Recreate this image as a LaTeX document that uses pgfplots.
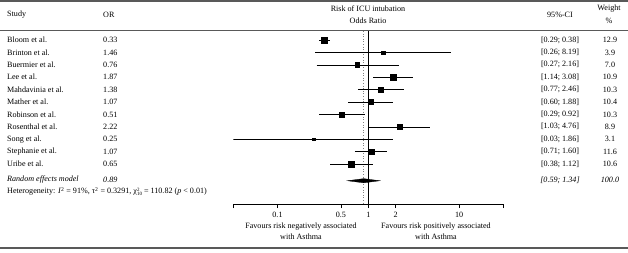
\documentclass[border=0pt]{standalone}
\usepackage{fontspec}
\setmainfont{Liberation Serif}
\usepackage{pgfplots}
\pgfplotsset{compat=1.18}
\usepackage{pgfplotstable}

\pgfplotstableread{
row or lo hi w
1 0.33 0.29 0.38 12.9
2 1.46 0.26 8.19 3.9
3 0.76 0.27 2.16 7.0
4 1.87 1.14 3.08 10.9
5 1.38 0.77 2.46 10.3
6 1.07 0.60 1.88 10.4
7 0.51 0.29 0.92 10.3
8 2.22 1.03 4.76 8.9
9 0.25 0.03 1.86 3.1
10 1.07 0.71 1.60 11.6
11 0.65 0.38 1.12 10.6
}\studies

\newcommand{\cibar}[3]{\addplot[black, line width=0.6pt, forget plot] coordinates {(#2,#1) (#3,#1)};}

\begin{document}
\begin{tikzpicture}
\useasboundingbox (0,0) rectangle (628pt,252pt);
\begin{axis}[
  at={(233.3pt,48pt)}, anchor=south west,
  scale only axis, width=270pt, height=173pt,
  xmode=log, xmin=0.0326, xmax=30.7,
  ymin=0.274, ymax=14.226, y dir=reverse,
  axis y line=none, axis x line*=bottom,
  axis line style={black, line width=0.6pt},
  xtick={0.1,0.5,1,2,10}, xticklabels={0.1,0.5,1,2,10},
  extra x ticks={0.0326,30.7}, extra x tick labels={,},
  extra x tick style={tick style={black, line width=0.6pt}},
  minor xtick={},
  tick align=outside, major tick length=4pt,
  tick style={black, line width=0.6pt},
  xticklabel style={font=\fontsize{8.1}{9.5}\selectfont, yshift=-1pt},
  clip=true,
]
\addplot[black, line width=0.6pt] coordinates {(1,0.274) (1,14.226)};
\addplot[gray, dotted, line width=0.6pt] coordinates {(0.89,0.274) (0.89,14.226)};
\cibar{1}{0.29}{0.38}
\cibar{2}{0.26}{8.19}
\cibar{3}{0.27}{2.16}
\cibar{4}{1.14}{3.08}
\cibar{5}{0.77}{2.46}
\cibar{6}{0.60}{1.88}
\cibar{7}{0.29}{0.92}
\cibar{8}{1.03}{4.76}
\cibar{9}{0.03}{1.86}
\cibar{10}{0.71}{1.60}
\cibar{11}{0.38}{1.12}
\addplot[scatter, only marks, mark=square*,
  scatter/use mapped color={draw=black, fill=black},
  visualization depends on={0.83*sqrt(\thisrow{w}) \as \ms},
  scatter/@pre marker code/.append style={/tikz/mark size=\ms}]
  table[x=or, y=row] {\studies};
\addplot[fill=black, draw=black, line width=0.3pt] coordinates {(0.59,12.35) (0.89,12.18) (1.34,12.35) (0.89,12.52)} -- cycle;
\end{axis}

\begin{scope}[yshift=252pt, x=1pt, y=-1pt, font=\fontsize{8.1}{9.5}\selectfont, inner sep=0pt]
\draw[black!65, line width=1.6pt] (0,1.2) -- (628,1.2);
\draw[black!65, line width=0.9pt] (0,30.7) -- (628,30.7);
\draw[black!65, line width=1.6pt] (0,248) -- (628,248);
% headers
\node[anchor=west] at (7,15) {Study};
\node[anchor=west] at (103,15) {OR};
\node at (368,8.5) {Risk of ICU intubation};
\node at (368,21) {Odds Ratio};
\node at (560,15) {95\%-CI};
\node at (609,8.5) {Weight};
\node at (609,21) {\%};
% rows
\foreach \rr/\nm/\orv/\civ/\wv in {
  1/Bloom et al./0.33/{[0.29; 0.38]}/12.9,
  2/Brinton et al./1.46/{[0.26; 8.19]}/3.9,
  3/Buermier et al./0.76/{[0.27; 2.16]}/7.0,
  4/Lee et al./1.87/{[1.14; 3.08]}/10.9,
  5/Mahdavinia et al./1.38/{[0.77; 2.46]}/10.3,
  6/Mather et al./1.07/{[0.60; 1.88]}/10.4,
  7/Robinson et al./0.51/{[0.29; 0.92]}/10.3,
  8/Rosenthal et al./2.22/{[1.03; 4.76]}/8.9,
  9/Song et al./0.25/{[0.03; 1.86]}/3.1,
  10/Stephanie et al./1.07/{[0.71; 1.60]}/11.6,
  11/Uribe et al./0.65/{[0.38; 1.12]}/10.6}{
  \pgfmathsetmacro{\yy}{40+12.4*(\rr-1)}
  \node[anchor=west] at (7,\yy) {\nm};
  \node[anchor=west] at (103,\yy) {\orv};
  \node at (560,\yy) {\civ};
  \node at (610,\yy) {\wv};
}
\node[anchor=west] at (7,180) {\textit{Random effects model}};
\node[anchor=west] at (103,180) {\textit{0.89}};
\node at (560,180) {\textit{[0.59; 1.34]}};
\node at (610,180) {\textit{100.0}};
\node[anchor=west] at (7,191.5) {Heterogeneity: \textit{I}\textsuperscript{2} = 91\%, τ\textsuperscript{2} = 0.3291, χ\rlap{\raisebox{0.55ex}{\fontsize{5}{5}\selectfont 2}}\raisebox{-0.45ex}{\fontsize{5}{5}\selectfont 10} = 110.82 (\textit{p} < 0.01)};
\node[align=center] at (301,231.5) {Favours risk negatively associated\\[1.5pt]with Asthma};
\node[align=center] at (436,231.5) {Favours risk positively associated\\[1.5pt]with Asthma};
\end{scope}
\end{tikzpicture}
\end{document}
